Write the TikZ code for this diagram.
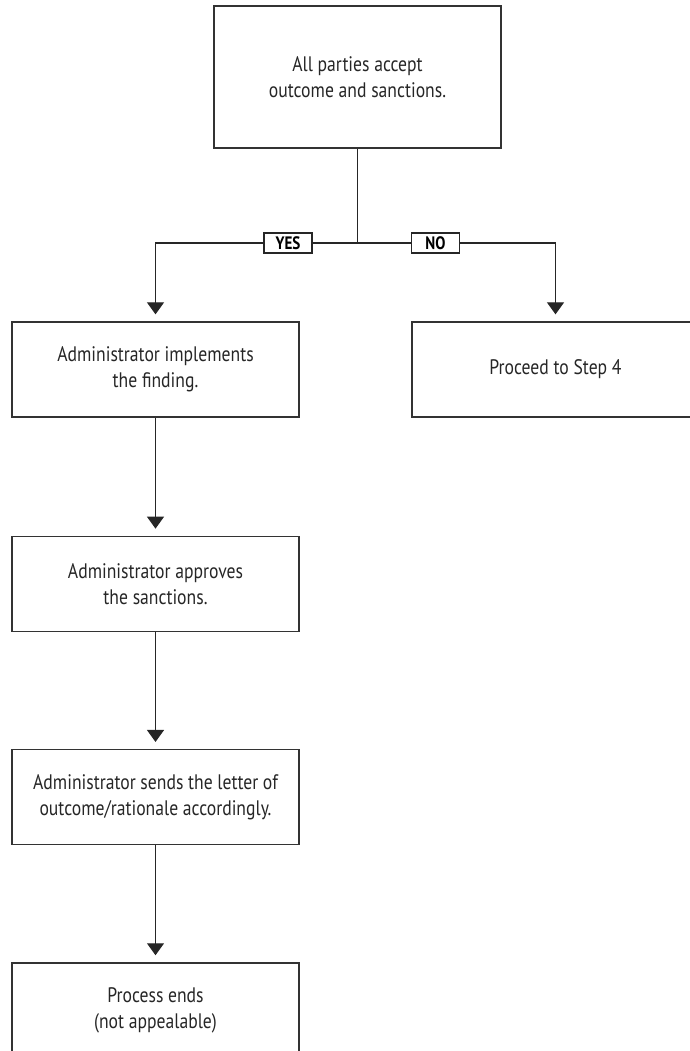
\documentclass[tikz,border=0pt]{standalone}
\usepackage{fontspec}
\setmainfont{PT Sans}[FakeStretch=0.84]
\usetikzlibrary{arrows.meta,positioning}

\tikzset{
    stepbox/.style={draw=black!80, line width=1.3pt, minimum width=287pt,
        minimum height=95pt, align=center, inner sep=0pt,
        font=\fontsize{21}{26}\selectfont, text=black!85},
    tagbox/.style={draw=black!85, line width=1.1pt, fill=white, inner sep=0pt,
        minimum width=48pt, minimum height=20pt,
        font=\bfseries\fontsize{18}{20}\selectfont},
    flow/.style={draw=black!85, line width=1.2pt},
    down/.style={flow, -{Triangle[width=17pt,length=12pt]}, shorten >=7pt}
}

\begin{document}
\begin{tikzpicture}[x=1pt, y=-1pt]
    \useasboundingbox (0,0) rectangle (689,1051);

    % Decision box
    \node[stepbox, minimum height=142pt] (accept) at (357.5,77) {All parties accept\\outcome and sanctions.};

    % Branch targets
    \node[stepbox] (implement) at (155.5,369.5) {Administrator implements\\the finding.};
    \node[stepbox] (step4) at (555.5,369.5) {Proceed to Step 4};

    % Remaining chain
    \node[stepbox, below=118pt of implement] (approve) {Administrator approves\\the sanctions.};
    \node[stepbox, below=117pt of approve] (letter) {Administrator sends the letter of\\outcome/rationale accordingly.};
    \node[stepbox, below=117pt of letter] (ends) {Process ends\\(not appealable)};

    % Split
    \coordinate (split) at (accept.south |- 0,243);
    \draw[flow] (accept.south) -- (split);
    \draw[down] (split) -| (implement.north);
    \draw[down] (split) -| (step4.north);
    \node[tagbox] (yes) at (288,243) {YES};
    \node[tagbox] (no) at (435.5,243) {NO};

    % Chain arrows
    \draw[down] (implement) -- (approve);
    \draw[down] (approve) -- (letter);
    \draw[down] (letter) -- (ends);
\end{tikzpicture}
\end{document}
